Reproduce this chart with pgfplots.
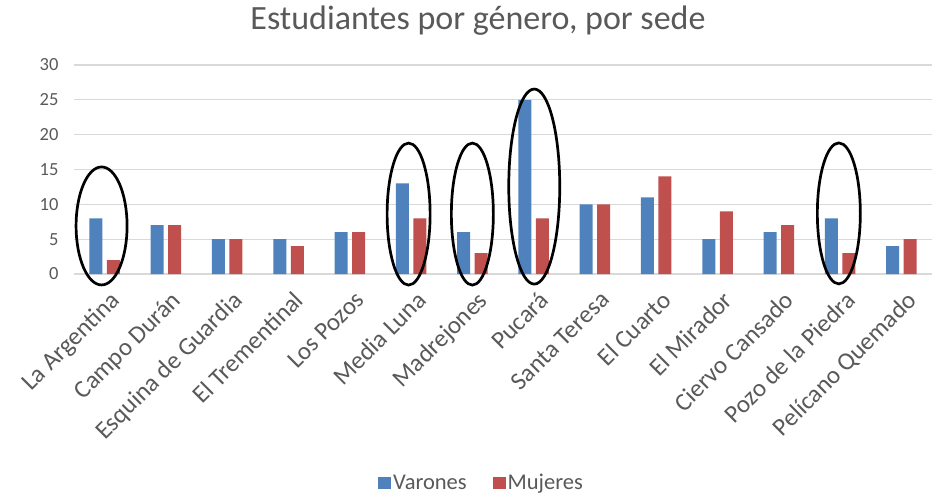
\documentclass[border=0pt]{standalone}
\usepackage{fontspec}
\setmainfont{Carlito}
\usepackage{pgfplots}
\pgfplotsset{compat=1.18}
\definecolor{cblue}{HTML}{4F81BD}
\definecolor{cred}{HTML}{C0504D}
\definecolor{cgrid}{HTML}{D9D9D9}
\definecolor{ctext}{HTML}{595959}
\begin{document}
\begin{tikzpicture}[x=1pt,y=1pt]
\useasboundingbox (0,0) rectangle (932,498);
\node[text=ctext, font=\fontsize{34}{40}\selectfont] at (478,477) {Estudiantes por género, por sede};
\begin{axis}[
  at={(74pt,224pt)}, anchor=south west,
  scale only axis, width=858pt, height=209pt,
  xmin=-0.5, xmax=13.5, ymin=0, ymax=30,
  ytick={0,5,...,30},
  xtick={0,...,13},
  xticklabels={La Argentina,Campo Durán,Esquina de Guardia,El Trementinal,Los Pozos,Media Luna,Madrejones,Pucará,Santa Teresa,El Cuarto,El Mirador,Ciervo Cansado,Pozo de la Piedra,Pelícano Quemado},
  x tick label style={rotate=45, anchor=north east, font=\fontsize{25}{28}\selectfont, text=ctext, inner sep=0pt, xshift=-5pt, yshift=-11pt},
  y tick label style={font=\fontsize{18.5}{22}\selectfont, text=ctext},
  /pgf/number format/assume math mode=true,
  ymajorgrids, grid style={cgrid, line width=1.3pt},
  axis x line*=bottom, axis y line*=left,
  x axis line style={cgrid, line width=1.3pt},
  y axis line style={draw=none},
  tick style={draw=none},
  yticklabel style={xshift=-12pt},
  ybar=4.5pt, bar width=13pt,
  clip=false,
  legend columns=2,
  legend style={at={(0.475,-1.0)}, anchor=center, draw=none, font=\fontsize{22.5}{26}\selectfont, text=ctext, /tikz/every even column/.append style={column sep=24pt}},
  legend image code/.code={\fill[#1] (0pt,-6pt) rectangle (13pt,6pt);},
]
\addplot[fill=cblue, draw=none] coordinates {(0,8) (1,7) (2,5) (3,5) (4,6) (5,13) (6,6) (7,25) (8,10) (9,11) (10,5) (11,6) (12,8) (13,4)};
\addplot[fill=cred, draw=none] coordinates {(0,2) (1,7) (2,5) (3,4) (4,6) (5,8) (6,3) (7,8) (8,10) (9,14) (10,9) (11,7) (12,3) (13,5)};
\legend{Varones,Mujeres}
\draw[line width=2.7pt] (axis cs:-0.05,6.9) ellipse [x radius=25.5pt, y radius=59pt];
\draw[line width=2.7pt] (axis cs:4.96,8.6) ellipse [x radius=21.5pt, y radius=71pt];
\draw[line width=2.7pt] (axis cs:6,8.6) ellipse [x radius=21pt, y radius=71pt];
\draw[line width=2.7pt] (axis cs:7.01,12.55) ellipse [x radius=25.5pt, y radius=97.5pt];
\draw[line width=2.7pt] (axis cs:11.98,8.7) ellipse [x radius=21.5pt, y radius=70.5pt];
\end{axis}
\end{tikzpicture}
\end{document}
